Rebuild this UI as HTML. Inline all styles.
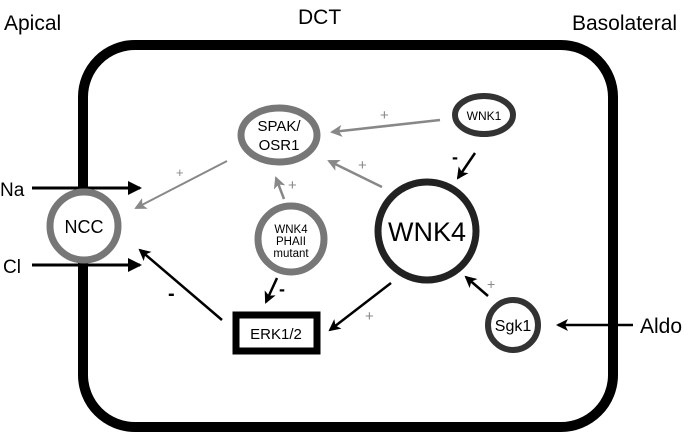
<!DOCTYPE html>
<html><head><style>
html,body{margin:0;padding:0;background:#fff;}
svg{display:block;font-family:"Liberation Sans",Arial,sans-serif;}
</style></head><body>
<svg width="696" height="434" viewBox="0 0 696 434" xmlns="http://www.w3.org/2000/svg">
<defs>
<marker id="ab" markerWidth="12" markerHeight="12" refX="10" refY="6" orient="auto" markerUnits="userSpaceOnUse"><path d="M0,0 L12,6 L0,12 L3,6 Z" fill="#000"/></marker>
<marker id="ag" markerWidth="12" markerHeight="12" refX="10" refY="6" orient="auto" markerUnits="userSpaceOnUse"><path d="M0,0 L12,6 L0,12 L3,6 Z" fill="#888"/></marker>
<marker id="abig" markerWidth="14" markerHeight="14" refX="12" refY="7" orient="auto" markerUnits="userSpaceOnUse"><path d="M0,0 L14,7 L0,14 Z" fill="#000"/></marker>
</defs>
<text x="4" y="30" font-size="21">Apical</text>
<text x="298" y="24" font-size="21">DCT</text>
<text x="572" y="30" font-size="21">Basolateral</text>
<rect x="83" y="45" width="530" height="382" rx="52" fill="none" stroke="#000" stroke-width="10"/>
<line x1="32" y1="188" x2="140" y2="188" stroke="#000" stroke-width="3" marker-end="url(#abig)"/>
<line x1="32" y1="265" x2="140" y2="265" stroke="#000" stroke-width="3" marker-end="url(#abig)"/>
<text x="0" y="196" font-size="19">Na</text>
<text x="3" y="273" font-size="19">Cl</text>
<circle cx="84" cy="226" r="34" fill="#fff" stroke="#777" stroke-width="7"/>
<text x="84" y="233" font-size="18" text-anchor="middle">NCC</text>
<ellipse cx="279" cy="135" rx="38" ry="27" fill="#fff" stroke="#777" stroke-width="7"/>
<text x="279" y="131" font-size="15" text-anchor="middle">SPAK/</text>
<text x="279" y="150" font-size="15" text-anchor="middle">OSR1</text>
<ellipse cx="484" cy="115" rx="29" ry="19" fill="#fff" stroke="#333" stroke-width="6"/>
<text x="484" y="120" font-size="12" text-anchor="middle">WNK1</text>
<circle cx="427" cy="231" r="49" fill="#fff" stroke="#222" stroke-width="7"/>
<text x="427" y="241" font-size="27" text-anchor="middle">WNK4</text>
<ellipse cx="291" cy="239" rx="33" ry="33" fill="#fff" stroke="#777" stroke-width="7"/>
<text x="291" y="233" font-size="11.5" text-anchor="middle">WNK4</text>
<text x="291" y="245" font-size="11.5" text-anchor="middle">PHAII</text>
<text x="291" y="257" font-size="11.5" text-anchor="middle">mutant</text>
<rect x="236" y="315" width="81" height="36" fill="#fff" stroke="#000" stroke-width="7"/>
<text x="276" y="339" font-size="15" text-anchor="middle">ERK1/2</text>
<ellipse cx="513" cy="325" rx="25" ry="25" fill="#fff" stroke="#333" stroke-width="6"/>
<text x="513" y="331" font-size="16" text-anchor="middle">Sgk1</text>
<line x1="440" y1="120" x2="332" y2="132" stroke="#888" stroke-width="2.5" marker-end="url(#ag)"/>
<text x="380" y="120" font-size="15" fill="#888">+</text>
<line x1="382" y1="187" x2="329" y2="161" stroke="#888" stroke-width="2.5" marker-end="url(#ag)"/>
<text x="358" y="170" font-size="15" fill="#888">+</text>
<line x1="284" y1="199" x2="276" y2="178" stroke="#888" stroke-width="2.5" marker-end="url(#ag)"/>
<text x="288" y="190" font-size="15" fill="#888">+</text>
<line x1="227" y1="161" x2="136" y2="208" stroke="#888" stroke-width="2" marker-end="url(#ag)"/>
<text x="176" y="177" font-size="13" fill="#888">+</text>
<line x1="475" y1="153" x2="458" y2="178" stroke="#000" stroke-width="2.5" marker-end="url(#ab)"/>
<text x="452" y="163" font-size="18" font-weight="bold">-</text>
<line x1="488" y1="296" x2="466" y2="277" stroke="#000" stroke-width="2.5" marker-end="url(#ab)"/>
<text x="487" y="289" font-size="14" fill="#888">+</text>
<line x1="633" y1="325" x2="558" y2="325" stroke="#000" stroke-width="2.5" marker-end="url(#ab)"/>
<text x="640" y="333" font-size="21">Aldo</text>
<line x1="391" y1="283" x2="330" y2="330" stroke="#000" stroke-width="2.5" marker-end="url(#ab)"/>
<text x="365" y="321" font-size="15" fill="#888">+</text>
<line x1="277" y1="278" x2="266" y2="302" stroke="#000" stroke-width="2.5" marker-end="url(#ab)"/>
<text x="279" y="295" font-size="18" font-weight="bold">-</text>
<line x1="222" y1="320" x2="140" y2="250" stroke="#000" stroke-width="2.5" marker-end="url(#ab)"/>
<text x="168" y="300" font-size="20" font-weight="bold">-</text>
</svg>
</body></html>
